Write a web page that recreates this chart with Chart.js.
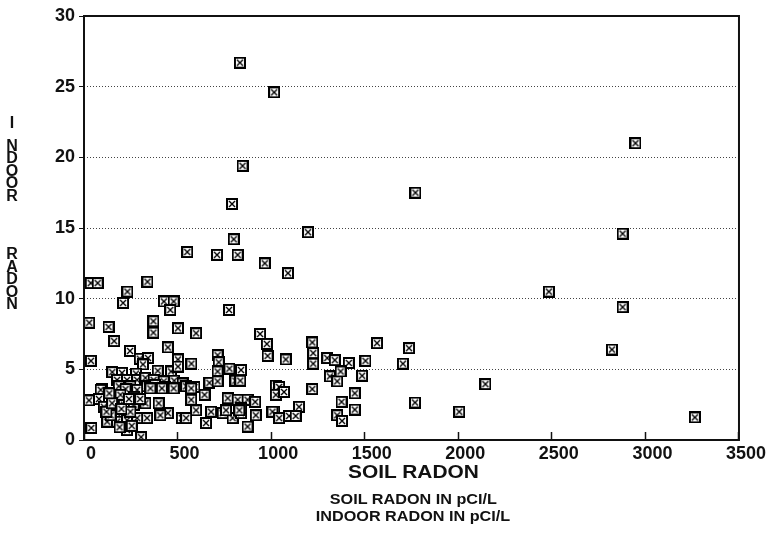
<!DOCTYPE html>
<html>
<head>
<meta charset="utf-8">
<script src="https://cdn.jsdelivr.net/npm/chart.js@4.4.1/dist/chart.umd.min.js"></script>
<style>
  html, body { margin: 0; padding: 0; background: #fff; }
  #wrap { position: relative; width: 770px; height: 550px; }
  #c { position: absolute; left: 0; top: 0; }
  .txt { position: absolute; font-family: "Liberation Sans", Arial, sans-serif; font-weight: bold; color: #111; white-space: nowrap; }
  #ytitle { left: 4px; top: 117px; width: 16px; text-align: center; font-family: "Liberation Sans Narrow", "Liberation Sans", Arial, sans-serif; font-size: 16px; line-height: 12.5px; }
  .row { position: absolute; left: 84px; width: 658px; text-align: center; }
  .row span { display: inline-block; transform-origin: center; }
  #xtitle { top: 461px; font-size: 19px; line-height: 22px; }
  #xtitle span { transform: scaleX(1.1); }
  #foot { top: 490px; font-size: 15px; line-height: 17px; }
  #foot span { transform: scaleX(1.08); }
</style>
</head>
<body>
<div id="wrap">
  <canvas id="c" width="770" height="550"></canvas>
  <div class="txt" id="ytitle"><span style="display:block;margin-bottom:10px">I</span>N<br>D<br>O<br>O<br>R<span style="display:block;height:46px"></span>R<br>A<br>D<br>O<br>N</div>
  <div class="txt row" id="xtitle"><span>SOIL RADON</span></div>
  <div class="txt row" id="foot"><span>SOIL RADON IN pCI/L</span><br><span>INDOOR RADON IN pCI/L</span></div>
</div>
<script>
// ---- data ----
const soilRadon = [
  833, 1016, 847, 1771, 791, 1197, 800, 2947, 2878, 2484,
  2878, 2821, 3264, 552, 711, 821, 966, 1090, 36, 73,
  339, 232, 209, 427, 479, 461, 775, 28, 371, 371,
  131, 502, 599, 941, 977, 981, 161, 448, 246, 37,
  298, 342, 502, 714, 574, 315, 151, 203, 278, 394,
  465, 502, 177, 230, 284, 328, 372, 426, 482, 186,
  248, 337, 381, 434, 97, 527, 720, 714, 777, 839,
  670, 714, 809, 835, 546, 590, 1025, 89, 27, 80,
  160, 222, 284, 355, 416, 479, 328, 399, 106, 213,
  266, 448, 408, 337, 177, 124, 177, 230, 284, 230,
  39, 305, 523, 142, 248, 195, 266, 573, 573, 644,
  768, 821, 874, 915, 599, 679, 741, 794, 839, 918,
  546, 652, 874, 839, 1016, 1220, 1566, 1078, 1225, 1225,
  1300, 1340, 1415, 1504, 1314, 1353, 1371, 1486, 1220, 1043,
  1025, 1069, 1447, 1376, 1149, 1007, 1043, 1096, 1131, 1353,
  1379, 1447, 1737, 1704, 2145, 1769, 2005, 759, 830, 120,
  150, 200, 255, 190, 300, 135, 240
];
const indoorRadon = [
  26.7, 24.6, 19.4, 17.5, 16.7, 14.7, 14.2, 21.0, 14.6, 10.5,
  9.4, 6.4, 1.6, 13.3, 13.1, 13.1, 12.5, 11.8, 11.1, 11.1,
  11.2, 10.5, 9.7, 9.8, 9.8, 9.2, 9.2, 8.3, 8.4, 7.6,
  8.0, 7.9, 7.55, 7.5, 6.8, 5.95, 7.0, 6.55, 6.3, 5.6,
  5.75, 5.8, 5.7, 6.0, 5.4, 5.35, 4.8, 4.75, 4.7, 4.9,
  4.85, 5.2, 4.25, 4.25, 4.25, 4.4, 4.25, 4.15, 4.2, 3.8,
  3.8, 3.8, 3.9, 3.75, 3.6, 4.0, 5.5, 4.85, 5.05, 4.95,
  4.05, 4.15, 4.2, 4.2, 3.8, 3.75, 3.85, 3.55, 2.8, 2.9,
  2.95, 3.6, 3.55, 3.65, 3.65, 3.65, 2.6, 2.6, 2.35, 2.5,
  2.5, 1.9, 1.75, 1.55, 1.9, 1.3, 1.3, 1.4, 1.55, 0.7,
  0.85, 0.2, 1.55, 1.75, 2.0, 3.2, 3.05, 3.65, 2.85, 3.2,
  2.95, 2.85, 2.85, 2.7, 2.1, 2.0, 1.9, 1.55, 1.9, 1.75,
  1.55, 1.2, 0.95, 2.25, 2.0, 6.9, 6.85, 5.7, 6.15, 5.4,
  5.8, 5.65, 5.45, 5.6, 4.5, 4.15, 4.85, 4.55, 3.6, 3.75,
  3.2, 3.4, 3.3, 2.7, 2.35, 2.0, 1.55, 1.7, 1.7, 1.75,
  1.35, 2.15, 6.5, 5.4, 3.95, 2.65, 2.0, 2.1, 2.1, 2.0,
  2.6, 2.2, 1.0, 0.9, 2.9, 3.3, 2.9
];
const xTicks = [0, 500, 1000, 1500, 2000, 2500, 3000, 3500];
const yTicks = [0, 5, 10, 15, 20, 25, 30];

// ---- marker: box with a cross ----
function makeMarker() {
  const m = document.createElement('canvas');
  m.width = 12; m.height = 12;
  const g = m.getContext('2d');
  g.fillStyle = '#000';
  g.fillRect(0, 0, 12, 12);
  g.fillStyle = '#fff';
  g.fillRect(2, 2, 8, 8);
  g.strokeStyle = '#000';
  g.lineWidth = 1.4;
  g.beginPath();
  g.moveTo(3, 3); g.lineTo(9, 9);
  g.moveTo(9, 3); g.lineTo(3, 9);
  g.stroke();
  return m;
}
const marker = makeMarker();

const points = soilRadon.map((x, i) => ({ x: x, y: indoorRadon[i] }));

const boxPlugin = {
  id: 'box',
  afterDraw(chart) {
    const a = chart.chartArea, ctx = chart.ctx;
    ctx.save();
    ctx.strokeStyle = '#111';
    ctx.lineWidth = 2;
    ctx.strokeRect(a.left, a.top, a.right - a.left, a.bottom - a.top);
    ctx.restore();
  }
};

const tickFont = { family: '"Liberation Sans", Arial, sans-serif', size: 18, weight: 'bold' };

new Chart(document.getElementById('c'), {
  type: 'scatter',
  data: {
    datasets: [{
      data: points,
      pointStyle: marker,
      pointRadius: 6,
      pointHoverRadius: 6
    }]
  },
  options: {
    responsive: false,
    animation: false,
    events: [],
    layout: { padding: { left: 0, top: 16, right: 28, bottom: 0 } },
    plugins: { legend: { display: false }, tooltip: { enabled: false } },
    scales: {
      x: {
        type: 'linear',
        min: 0, max: 3500,
        afterBuildTicks(s) { s.ticks = xTicks.map(v => ({ value: v })); },
        afterFit(s) { s.height = 110; },
        ticks: { font: tickFont, color: '#111', padding: 11, autoSkip: false, maxRotation: 0, labelOffset: 7, callback: v => String(v) },
        grid: { drawOnChartArea: false, drawTicks: true, tickLength: -8, tickColor: '#111', tickWidth: 1.5 },
        border: { display: false }
      },
      y: {
        type: 'linear',
        min: 0, max: 30,
        afterBuildTicks(s) { s.ticks = yTicks.map(v => ({ value: v })); },
        afterFit(s) { s.width = 84; },
        ticks: { font: tickFont, color: '#111', padding: 4, callback: v => String(v) },
        grid: {
          drawOnChartArea: true,
          drawTicks: true,
          tickLength: 5,
          lineWidth: 1,
          color: c => (c.tick && (c.tick.value === 0 || c.tick.value === 30)) ? 'rgba(0,0,0,0)' : '#444',
          tickColor: '#111',
          tickBorderDash: []
        },
        border: { display: false, dash: [1, 2] }
      }
    }
  },
  plugins: [boxPlugin]
});
</script>
</body>
</html>
